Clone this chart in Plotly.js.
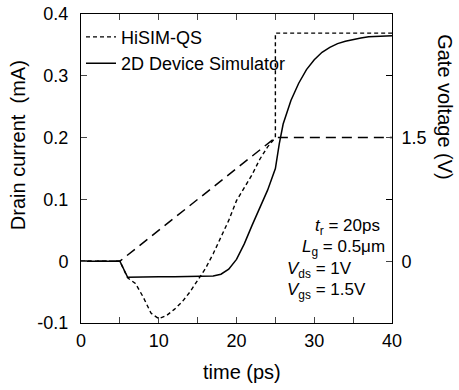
<!DOCTYPE html>
<html>
<head>
<meta charset="utf-8">
<script src="https://cdn.plot.ly/plotly-3.0.1.min.js"></script>
<style>html,body{margin:0;padding:0;background:#fff;}#chart{width:459px;height:390px;}</style>
</head>
<body>
<div id="chart"></div>
<script>
// 2D device simulator (solid)
const timeDevice = [0, 5, 6, 8, 10, 12, 14, 16, 17, 18, 19, 20, 21, 22, 23, 24, 25, 25.5, 26, 27, 28, 29, 30, 31, 32, 33, 34, 35, 36, 37, 38, 39, 40];
const currentDevice = [0, 0, -0.026, -0.025, -0.025, -0.025, -0.025, -0.025, -0.024, -0.021, -0.013, 0.003, 0.028, 0.058, 0.088, 0.115, 0.15, 0.19, 0.222, 0.26, 0.288, 0.31, 0.326, 0.338, 0.346, 0.352, 0.356, 0.359, 0.361, 0.363, 0.364, 0.365, 0.365];
// HiSIM-QS (short dash)
const timeHisim = [0, 5, 6, 7, 8, 9, 10, 11, 12, 13, 14, 15, 16, 17, 18, 19, 20, 21, 22, 23, 24, 25, 25, 40];
const currentHisim = [0, 0, -0.027, -0.036, -0.058, -0.084, -0.093, -0.088, -0.078, -0.066, -0.05, -0.032, -0.012, 0.012, 0.038, 0.066, 0.098, 0.12, 0.14, 0.165, 0.185, 0.2, 0.369, 0.369];
// Gate voltage (long dash, right axis)
const timeGate = [0, 5, 25, 40];
const gateVoltage = [0, 0, 1.5, 1.5];

const xTickVals = [0, 5, 10, 15, 20, 25, 30, 35, 40];
const xTickText = ['0', ' ', '10', ' ', '20', ' ', '30', ' ', '40'];
const yTickVals = [-0.1, 0, 0.1, 0.2, 0.3, 0.4];
const yTickText = ['-0.1', '0', '0.1', '0.2', '0.3', '0.4'];
const y2TickVals = [0, 1.5];
const y2TickText = ['0', '1.5'];
const y2MinorVals = [0.75, 2.25];

const FONT = 'Liberation Sans, Arial, Helvetica, sans-serif';

const traces = [
  {x: timeGate, y: gateVoltage, yaxis: 'y2', mode: 'lines', showlegend: false,
   line: {color: '#000', width: 1.5, dash: '10px,6px'}, name: 'Gate'},
  {x: timeHisim, y: currentHisim, mode: 'lines', name: 'HiSIM-QS',
   line: {color: '#000', width: 1.4, dash: '4px,3px'}},
  {x: timeDevice, y: currentDevice, mode: 'lines', name: '2D Device Simulator',
   line: {color: '#000', width: 1.5}}
];

const layout = {
  width: 459, height: 390,
  margin: {l: 81, r: 67, t: 14, b: 67},
  paper_bgcolor: '#fff', plot_bgcolor: '#fff',
  font: {family: FONT, size: 18, color: '#000'},
  showlegend: true,
  legend: {x: 0.0, y: 0.985, xanchor: 'left', yanchor: 'top', bgcolor: 'rgba(0,0,0,0)',
           font: {size: 18}, tracegroupgap: 0, itemwidth: 30},
  xaxis: {range: [0, 40], tickmode: 'array', tickvals: xTickVals, ticktext: xTickText, ticks: 'inside', ticklen: 6,
          tickwidth: 1, showline: true, linecolor: '#000', linewidth: 1, mirror: 'ticks',
          showgrid: false, zeroline: false, ticklabelstandoff: 1, tickfont: {size: 18}},
  yaxis: {range: [-0.1, 0.4], tickmode: 'array', tickvals: yTickVals, ticktext: yTickText, ticks: 'inside', ticklen: 6,
          tickwidth: 1, showline: true, linecolor: '#000', linewidth: 1, mirror: true,
          showgrid: false, zeroline: false, ticklabelstandoff: 8, tickfont: {size: 18}},
  yaxis2: {range: [-0.75, 3.0], overlaying: 'y', side: 'right', tickmode: 'array', tickvals: y2TickVals, ticktext: y2TickText,
           ticks: 'inside', ticklen: 6, tickwidth: 1, showline: true, linecolor: '#000', linewidth: 1,
           minor: {tickmode: 'array', tickvals: y2MinorVals, ticks: 'inside', ticklen: 6, tickwidth: 1, tickcolor: '#000'},
           showgrid: false, zeroline: false, ticklabelstandoff: 5, tickfont: {size: 18}},
  annotations: [
    {text: 'time (ps)', xref: 'paper', yref: 'paper', x: 0.518, y: -0.158, xanchor: 'center', yanchor: 'middle',
     showarrow: false, font: {size: 20}},
    {text: 'Drain current\u00a0\u00a0(mA)', xref: 'paper', yref: 'paper', x: -0.203, y: 0.575, xanchor: 'center', yanchor: 'middle',
     textangle: -90, showarrow: false, font: {size: 20}},
    {text: 'Gate voltage (V)', xref: 'paper', yref: 'paper', x: 1.17, y: 0.699, xanchor: 'center', yanchor: 'middle',
     textangle: 90, showarrow: false, font: {size: 20}},
    {text: '<i>t</i><sub>r</sub> = 20ps', xref: 'paper', yref: 'paper', x: 0.746, y: 0.31, xanchor: 'left', yanchor: 'middle',
     showarrow: false, font: {size: 17}},
    {text: '<i>L</i><sub>g</sub> = 0.5\u03bcm', xref: 'paper', yref: 'paper', x: 0.704, y: 0.243, xanchor: 'left', yanchor: 'middle',
     showarrow: false, font: {size: 17}},
    {text: '<i>V</i><sub>ds</sub> = 1V', xref: 'paper', yref: 'paper', x: 0.656, y: 0.172, xanchor: 'left', yanchor: 'middle',
     showarrow: false, font: {size: 17}},
    {text: '<i>V</i><sub>gs</sub> = 1.5V', xref: 'paper', yref: 'paper', x: 0.656, y: 0.103, xanchor: 'left', yanchor: 'middle',
     showarrow: false, font: {size: 17}}
  ]
};

Plotly.newPlot('chart', traces, layout, {displayModeBar: false, staticPlot: true});
</script>
</body>
</html>
